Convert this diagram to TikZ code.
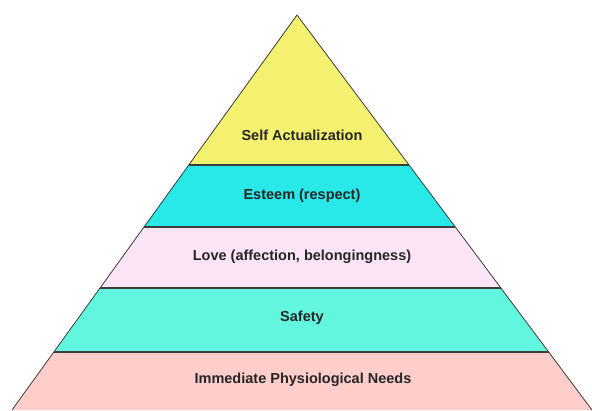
\documentclass[tikz,border=0pt]{standalone}
\usepackage{fontspec}
\setmainfont{Liberation Sans}
\usepackage{tikz}
\usetikzlibrary{math}
\definecolor{selfc}{RGB}{244, 240, 112}
\definecolor{esteemc}{RGB}{40, 232, 232}
\definecolor{lovec}{RGB}{250, 228, 246}
\definecolor{safetyc}{RGB}{98, 246, 222}
\definecolor{physc}{RGB}{255, 205, 202}
\definecolor{edge}{RGB}{60, 60, 60}

\tikzset{
  level/.style={font=\fontsize{14.5}{17}\selectfont\bfseries, text=black!85},
  rim/.style={edge, line width=1.1}
}

\begin{document}
\begin{tikzpicture}[x=1pt, y=-1pt]
  \useasboundingbox (0, 0) rectangle (592, 410);

  \coordinate (apex) at (297, 15);
  \coordinate (baseL) at (12, 410);
  \coordinate (baseR) at (592, 410);

  % bands, top to bottom
  \foreach \ya/\yb/\col in {15/165/selfc, 165/227/esteemc, 227/288/lovec, 288/352/safetyc, 352/410/physc} {
    \pgfmathsetmacro{\xal}{297 - 0.7215 * (\ya - 15)};
    \pgfmathsetmacro{\xar}{297 + 0.7468 * (\ya - 15)};
    \pgfmathsetmacro{\xbl}{297 - 0.7215 * (\yb - 15)};
    \pgfmathsetmacro{\xbr}{297 + 0.7468 * (\yb - 15)};
    \fill[\col] (\xal, \ya) -- (\xar, \ya) -- (\xbr, \yb) -- (\xbl, \yb) -- cycle;
  }

  % separating lines
  \foreach \y in {165, 227, 288, 352} {
    \pgfmathsetmacro{\xl}{297 - 0.7215 * (\y - 15)};
    \pgfmathsetmacro{\xr}{297 + 0.7468 * (\y - 15)};
    \draw[rim] (\xl, \y) -- (\xr, \y);
  }

  \draw[edge, line width=0.8] (baseL) -- (apex) -- (baseR);

  \node[level] (self) at (302, 135) {Self Actualization};
  \node[level] (esteem) at (302, 196) {Esteem (respect)};
  \node[level] (love) at (302, 257) {Love (affection, belongingness)};
  \node[level] (safety) at (302, 318) {Safety};
  \node[level] (phys) at (303, 380) {Immediate Physiological Needs};
\end{tikzpicture}
\end{document}
